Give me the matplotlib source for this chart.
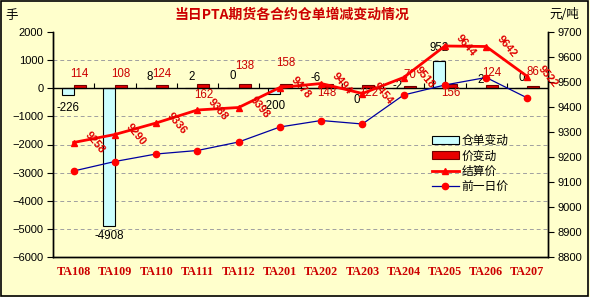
import numpy as np
import matplotlib
matplotlib.use('Agg')
import matplotlib.pyplot as plt
from matplotlib.patches import Rectangle, Patch
from matplotlib.lines import Line2D

plt.rcParams['font.family'] = ['Liberation Sans', 'Noto Sans CJK SC']

# data
contracts = ['TA108', 'TA109', 'TA110', 'TA111', 'TA112', 'TA201',
             'TA202', 'TA203', 'TA204', 'TA205', 'TA206', 'TA207']
warehouse_change = [-226, -4908, 8, 2, 0, -200, -6, 0, -2, 952, 2, 0]
price_change = [114, 108, 124, 162, 138, 158, 148, 122, 70, 156, 124, 86]
settle_price = [9258, 9290, 9336, 9388, 9398, 9478, 9494, 9454, 9518, 9644, 9642, 9522]
prev_price = [9144, 9182, 9212, 9226, 9260, 9320, 9346, 9332, 9448, 9488, 9518, 9436]

# label offsets (pixels) as placed in the original
wh_dy = [-13, -10, 11, 11.5, 12, -12, 10, -11.5, 2, 13, 8.5, 10.5]
pc_dy = [11.3, 11.5, 11, -11, 18.6, 21, -8.7, -8, 11.5, -9, 12, 14]

bg = '#FFFFCC'
dark_red = '#CC0000'
px = 0.72  # points per pixel at dpi 100

fig = plt.figure(figsize=(5.9, 2.97), dpi=100, facecolor=bg)
ax = fig.add_axes([53/590, 1-257/297, 495/590, 225/297])
ax.set_facecolor(bg)
ax2 = ax.twinx()

x = np.arange(len(contracts))
w = 0.29
ax.bar(x - w/2, warehouse_change, w, color='#CCFFFF', edgecolor='black', lw=0.8, zorder=3)
ax.bar(x + w/2, price_change, w, color='#E80000', edgecolor='#700000', lw=0.8, zorder=3)

ax.set_xlim(-0.5, len(contracts) - 0.5)
ax.set_ylim(-6000, 2000)
ax.set_yticks(np.arange(-6000, 2001, 1000))
for t in np.arange(-5000, 1001, 1000):
    if t != 0:
        ax.axhline(t, color='#A0A0A0', lw=0.7, ls=(0, (4, 3)), zorder=1)
ax.axhline(0, color='black', lw=1, zorder=4)
ax.vlines(x + 0.5, 0, 200, color='black', lw=0.8, zorder=4)

for i in range(len(contracts)):
    ax.annotate(str(warehouse_change[i]), (x[i] - w/2, warehouse_change[i]),
                xytext=(0, wh_dy[i] * px), textcoords='offset points',
                ha='center', va='center', fontsize=8.3, color='black', zorder=5)
    ax.annotate(str(price_change[i]), (x[i] + w/2, price_change[i]),
                xytext=(0, pc_dy[i] * px), textcoords='offset points',
                ha='center', va='center', fontsize=8.3, color=dark_red, zorder=5)

ax.set_xticks(x)
ax.set_xticklabels(contracts, fontfamily='Liberation Serif', fontweight='bold',
                   fontsize=8.7, color=dark_red)
ax.tick_params(axis='x', length=0, pad=6.5)
ax.tick_params(axis='y', direction='out', length=4, labelsize=8, pad=3)

ax2.plot(x, settle_price, color='#FF0000', lw=2, marker='^', ms=5, zorder=5)
ax2.plot(x, prev_price, color='#0000A0', lw=0.9, marker='o', ms=4.5,
         mfc='#FF0000', mec='#FF0000', zorder=4)
ax2.set_ylim(8800, 9700)
ax2.set_yticks(np.arange(8800, 9701, 100))
ax2.tick_params(axis='y', direction='out', length=4, labelsize=8, pad=3)
for i in range(len(contracts)):
    ax2.annotate(str(settle_price[i]), (x[i], settle_price[i]),
                 xytext=(15, 0), textcoords='offset points', rotation=-50,
                 ha='center', va='center', fontsize=8, fontweight='bold',
                 color='#E00000', zorder=6)

for a in (ax, ax2):
    a.spines['top'].set_visible(False)
    for s in a.spines.values():
        s.set_linewidth(1)

handles = [Patch(facecolor='#CCFFFF', edgecolor='black', lw=0.8),
           Patch(facecolor='#E80000', edgecolor='#700000', lw=0.8),
           Line2D([], [], color='#FF0000', lw=2, marker='^', ms=5),
           Line2D([], [], color='#0000A0', lw=0.9, marker='o', ms=4.5,
                  mfc='#FF0000', mec='#FF0000')]
labels = ['仓单变动', '价变动', '结算价', '前一日价']
ax2.legend(handles, labels, loc='upper left', bbox_to_anchor=(426/590, 1-129/297),
           bbox_transform=fig.transFigure, frameon=False, fontsize=8.5,
           handlelength=2.3, handletextpad=0.2, labelspacing=0.3, borderpad=0)

fig.text(292/590, 1-15/297, '当日PTA期货各合约仓单增减变动情况', ha='center', va='center',
         fontsize=10, fontweight='bold', color=dark_red, family=['Noto Sans CJK SC'])
fig.text(12/590, 1-15/297, '手', ha='center', va='center', fontsize=9,
         family=['Noto Sans CJK SC'])
fig.text(564/590, 1-15/297, '元/吨', ha='center', va='center', fontsize=9,
         family=['Noto Sans CJK SC'])

fig.patches.append(Rectangle((0.002, 0.004), 0.995, 0.992, transform=fig.transFigure,
                             fill=False, edgecolor='black', lw=1.2))

fig.savefig('out.png', dpi=100, facecolor=bg)
